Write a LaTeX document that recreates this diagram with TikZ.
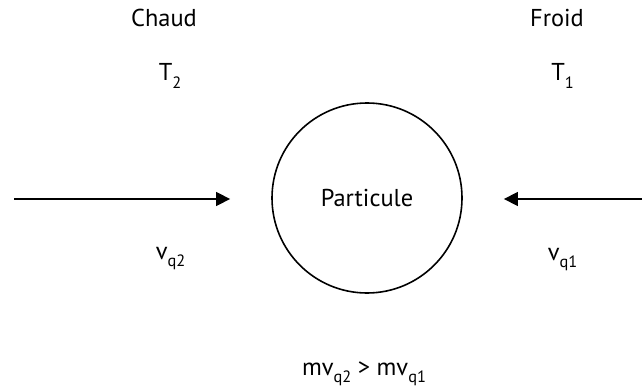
\documentclass[tikz,border=0pt]{standalone}
\usepackage{fontspec}
\setmainfont{PT Sans}
\usetikzlibrary{arrows.meta}
\newcommand{\lowtxt}[1]{\raisebox{-3.6pt}{\fontsize{8.2}{9}\selectfont #1}}
\tikzset{
    label/.style={anchor=base, inner sep=0pt},
    flow/.style={line width=1.15pt, -{Triangle[length=7pt,width=6.8pt]}, shorten >=20.5pt}
}
\begin{document}
\begin{tikzpicture}[x=0.5pt, y=-0.5pt, font=\fontsize{12.2}{14}\selectfont]
    \useasboundingbox (0,0) rectangle (642,390);
    % Hot and cold sides
    \node[label] (chaud) at (164, 27) {Chaud};
    \node[label] (froid) at (557, 27) {Froid};
    \node[label] (ttwo) at (170, 81) {T\lowtxt{2}};
    \node[label] (tone) at (562.5, 81) {T\lowtxt{1}};
    % The particle
    \node[draw, circle, line width=0.8pt, minimum size=95pt, inner sep=0pt] (part) at (367, 198) {Particule};
    % Incoming momenta
    \coordinate (hotsrc) at (14, 199);
    \coordinate (coldsrc) at (643, 199);
    \draw[flow] (hotsrc) -- (hotsrc -| part.west);
    \draw[flow] (coldsrc) -- (coldsrc -| part.east);
    \node[label] (vtwo) at (170.5, 259) {v\lowtxt{q2}};
    \node[label] (vone) at (562.5, 260) {v\lowtxt{q1}};
    % Result
    \node[label] (result) at (364, 375) {mv\lowtxt{q2} > mv\lowtxt{q1}};
\end{tikzpicture}
\end{document}
